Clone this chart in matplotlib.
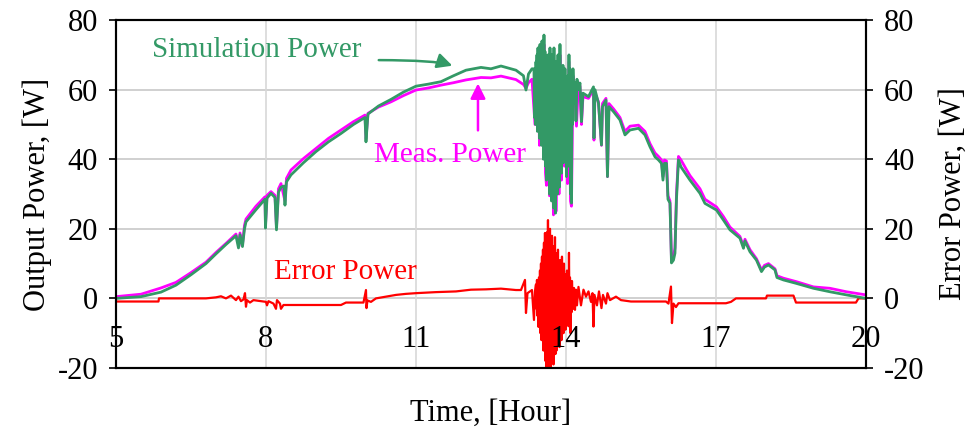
import matplotlib

matplotlib.use("Agg")
import matplotlib.pyplot as plt

plt.rcParams["font.family"] = ["Liberation Serif", "DejaVu Serif"]
plt.rcParams["axes.unicode_minus"] = False

GREEN = "#339966"
MAGENTA = "#ff00ff"
RED = "#ff0000"

# simulated output power, hours / watts
sim_hours = [
    5.00, 5.50, 5.90, 6.20, 6.50, 6.80, 7.00, 7.20, 7.40, 7.45, 7.48, 7.53, 7.57, 7.60,
    7.80, 7.98, 7.99, 8.02, 8.10, 8.18, 8.21, 8.25, 8.30, 8.36, 8.38, 8.41, 8.50, 8.75,
    9.00, 9.25, 9.50, 9.75, 9.98, 10.00, 10.04, 10.25, 10.50, 10.75, 11.00, 11.25, 11.50,
    11.75, 12.00, 12.30, 12.50, 12.70, 13.00, 13.15, 13.20, 13.25, 13.32,
    13.36, 13.37, 13.38, 13.39, 13.40, 13.41, 13.42, 13.43, 13.44, 13.45, 13.46, 13.47,
    13.48, 13.49, 13.50, 13.51, 13.52, 13.53, 13.54, 13.55, 13.56, 13.57, 13.58, 13.59,
    13.60, 13.61, 13.62, 13.63, 13.64, 13.65, 13.66, 13.67, 13.68, 13.69, 13.70, 13.71,
    13.72, 13.73, 13.74, 13.75, 13.76, 13.77, 13.78, 13.79, 13.80, 13.81, 13.82, 13.83,
    13.84, 13.85, 13.86, 13.87, 13.88, 13.89, 13.90, 13.91, 13.92, 13.93, 13.94, 13.95,
    13.96, 13.97, 13.98, 13.99, 14.00, 14.01, 14.02, 14.03, 14.04, 14.05, 14.06, 14.07,
    14.08, 14.09, 14.10, 14.11, 14.12, 14.13, 14.14, 14.16, 14.18, 14.20, 14.22, 14.25,
    14.28, 14.31, 14.34, 14.45,
    14.55, 14.56, 14.58, 14.65, 14.71, 14.73, 14.80, 14.83, 14.86, 14.95, 15.08, 15.18,
    15.28, 15.45, 15.58, 15.68, 15.78, 15.85, 15.91, 15.94, 15.97, 16.01, 16.04, 16.08,
    16.11, 16.15, 16.18, 16.21, 16.25, 16.30, 16.41, 16.48, 16.68, 16.78, 17.01, 17.15,
    17.28, 17.48, 17.55, 17.58, 17.68, 17.81, 17.91, 17.97, 18.05, 18.18, 18.22, 18.35,
    18.61, 18.95, 19.28, 19.61, 20.00,
]
sim_power = [
    0.0, 0.5, 1.8, 3.8, 6.8, 10.0, 12.8, 15.5, 18.0, 14.5, 18.3, 14.9, 20.0, 22.0,
    25.5, 28.5, 20.2, 28.8, 30.2, 29.0, 19.7, 30.5, 32.0, 32.3, 26.8, 33.5, 35.5, 39.0,
    42.2, 45.0, 47.4, 50.0, 52.0, 45.0, 53.0, 55.3, 57.2, 59.3, 61.0, 61.6, 62.3,
    64.0, 65.6, 66.4, 66.0, 66.8, 65.6, 64.0, 59.9, 64.5, 66.0,
    66.0, 52.0, 64.0, 50.0, 68.0, 62.0, 70.0, 48.0, 72.0, 55.0, 70.0, 46.0,
    73.0, 52.0, 68.0, 44.0, 74.0, 50.0, 70.0, 40.0, 75.7, 48.0, 71.0, 38.0,
    69.0, 34.0, 66.0, 45.0, 70.0, 36.0, 68.0, 30.0, 72.0, 42.0, 65.0, 28.0,
    70.0, 44.0, 66.0, 26.0, 72.0, 40.0, 62.0, 24.5, 68.0, 38.0, 64.0, 30.0,
    70.0, 42.0, 60.0, 32.0, 73.0, 45.0, 66.0, 36.0, 62.0, 48.0, 67.0, 39.0,
    60.0, 46.0, 66.0, 42.0, 62.0, 35.0, 58.0, 44.0, 64.0, 38.0, 70.0, 52.0,
    66.0, 30.0, 60.0, 27.4, 58.0, 50.0, 66.0, 56.0, 62.0, 51.0, 63.0, 60.0,
    61.9, 50.8, 59.0, 58.0,
    60.8, 46.1, 60.0, 56.1, 44.1, 55.1, 57.0, 35.0, 55.1, 53.7, 51.3, 47.0,
    48.4, 48.9, 47.0, 43.6, 40.7, 39.8, 38.8, 34.0, 38.8, 38.8, 28.5, 27.4,
    10.2, 11.0, 13.0, 28.5, 39.8, 37.8, 35.5, 34.0, 30.2, 27.3, 25.4, 22.5,
    19.7, 17.3, 14.4, 16.5, 13.4, 11.0, 7.7, 9.0, 9.6, 8.2, 6.0, 5.3,
    4.3, 2.9, 1.9, 1.0, 0.0,
]

# measured output power
meas_hours = [
    5.00, 5.50, 5.90, 6.20, 6.50, 6.80, 7.00, 7.20, 7.40, 7.46, 7.48, 7.53, 7.57, 7.60,
    7.80, 7.98, 7.99, 8.02, 8.10, 8.18, 8.21, 8.25, 8.30, 8.38, 8.41, 8.50, 8.75,
    9.00, 9.25, 9.50, 9.75, 9.98, 10.00, 10.04, 10.25, 10.50, 10.75, 11.00, 11.25, 11.50,
    11.75, 12.00, 12.30, 12.50, 12.70, 13.00, 13.15, 13.20, 13.25, 13.32,
    13.38, 13.41, 13.44, 13.47, 13.50, 13.53, 13.56, 13.59, 13.61, 13.64, 13.67, 13.70,
    13.73, 13.75, 13.78, 13.80, 13.83, 13.86, 13.88, 13.91, 13.94, 13.97, 14.00, 14.03,
    14.06, 14.09, 14.11, 14.14, 14.18, 14.21, 14.25,
    14.28, 14.31, 14.34, 14.45, 14.55, 14.56,
    14.58, 14.65, 14.71, 14.73, 14.80, 14.83, 14.86, 14.95, 15.08, 15.18, 15.28, 15.45,
    15.58, 15.68, 15.78, 15.85, 15.91, 15.94, 15.97, 16.01, 16.04, 16.08, 16.11, 16.15,
    16.18, 16.21, 16.25, 16.30, 16.41, 16.48, 16.68, 16.78, 17.01, 17.15, 17.28, 17.48,
    17.55, 17.58, 17.68, 17.81, 17.91, 17.97, 18.05, 18.18, 18.22, 18.35, 18.61, 18.95,
    19.28, 19.61, 20.00,
]
meas_power = [
    0.5, 1.2, 3.0, 4.6, 7.4, 10.4, 13.2, 15.8, 18.5, 15.0, 18.8, 15.5, 21.0, 22.8,
    26.5, 29.2, 21.0, 29.6, 30.7, 29.6, 20.5, 31.5, 33.0, 28.0, 34.5, 36.9, 40.2,
    43.1, 46.0, 48.4, 50.8, 52.7, 46.0, 53.2, 55.0, 56.5, 58.3, 59.9, 60.5, 61.3,
    62.0, 62.8, 63.5, 63.4, 63.9, 62.9, 61.5, 60.4, 62.0, 63.0,
    50.0, 60.0, 70.0, 44.0, 66.0, 48.0, 73.0, 36.0, 32.5, 68.0, 29.5, 63.0,
    42.0, 24.0, 68.0, 25.0, 66.0, 30.0, 70.0, 34.0, 64.0, 38.0, 61.0, 33.0,
    68.0, 28.0, 26.5, 64.0, 58.0, 49.5, 62.0,
    61.0, 50.0, 58.0, 57.5, 60.0, 45.5,
    59.0, 56.5, 44.0, 56.0, 57.5, 35.0, 56.0, 54.5, 52.0, 48.0, 49.5, 49.8,
    48.0, 44.5, 41.8, 40.8, 39.8, 35.0, 39.8, 39.5, 29.5, 28.0, 11.0, 12.0,
    14.5, 30.0, 40.8, 39.8, 37.0, 35.3, 31.5, 28.5, 26.3, 23.5, 20.5, 17.8,
    15.0, 17.0, 14.0, 11.4, 8.2, 9.5, 10.0, 8.5, 6.5, 5.8, 4.8, 3.3,
    2.9, 1.9, 1.0,
]

# error power (right axis, same scale as left)
err_hours = [
    5.00, 5.85, 5.86, 6.80, 7.00, 7.10, 7.20, 7.30, 7.40, 7.45, 7.50, 7.55, 7.58, 7.60,
    7.62, 7.68, 7.75, 8.00, 8.02, 8.05, 8.15, 8.20, 8.22, 8.28, 8.30, 8.35, 9.50, 9.60,
    9.95, 10.00, 10.01, 10.03, 10.10, 10.20, 10.40, 10.60, 10.80, 11.00, 11.40, 11.80,
    12.10, 12.40, 12.70, 13.00, 13.10, 13.18, 13.20, 13.23, 13.32, 13.36, 13.38,
    13.40, 13.41, 13.42, 13.43, 13.44, 13.45, 13.46, 13.47, 13.48, 13.49, 13.50, 13.51,
    13.52, 13.53, 13.54, 13.55, 13.56, 13.57, 13.58, 13.59, 13.60, 13.61, 13.62, 13.63,
    13.64, 13.65, 13.66, 13.67, 13.68, 13.69, 13.70, 13.71, 13.72, 13.73, 13.74, 13.75,
    13.76, 13.77, 13.78, 13.79, 13.80, 13.81, 13.82, 13.83, 13.84, 13.85, 13.86, 13.87,
    13.88, 13.89, 13.90, 13.91, 13.92, 13.93, 13.94, 13.95, 13.96, 13.97, 13.98, 13.99,
    14.00, 14.01, 14.02, 14.03, 14.04, 14.05, 14.06, 14.07, 14.08, 14.09, 14.10, 14.11,
    14.12, 14.14, 14.16, 14.18, 14.20, 14.22, 14.25,
    14.30, 14.35, 14.40, 14.45, 14.50, 14.53,
    14.55, 14.57, 14.62, 14.66, 14.71, 14.74, 14.80, 14.83, 14.88, 15.00, 15.10, 15.30,
    16.00, 16.05, 16.10, 16.12, 16.15, 16.20, 16.25, 17.20, 17.30, 17.40, 18.00, 18.02,
    18.55, 18.60, 19.80, 19.85, 20.00,
]
err_power = [
    -0.9, -0.9, 0.0, 0.0, 0.3, 0.6, 0.0, 0.8, -0.5, 0.5, -0.8, -0.3, 1.5, -2.4,
    -0.5, -1.2, -0.5, -1.0, -2.0, -0.8, -1.5, -3.0, -0.5, -1.5, -3.0, -1.9, -1.9, -1.2,
    -1.2, 2.4, -2.8, -0.6, -1.0, 0.0, 0.5, 1.0, 1.3, 1.5, 1.8, 2.0,
    2.5, 2.6, 2.8, 2.4, 2.4, 5.3, -4.2, 1.5, 2.4, -6.2, 2.0,
    4.0, -3.0, 5.3, -5.0, 3.0, -8.2, 6.0, -6.0, 8.0, -10.0, 10.0, -12.0,
    12.0, -9.0, 14.0, -15.0, 16.0, -14.0, 18.8, -18.0, 15.0, -20.5, 19.0, -16.0,
    22.5, -20.5, 17.0, -18.0, 20.0, -20.5, 16.0, -15.0, 18.0, -17.0, 14.0, -19.0,
    15.0, -14.0, 17.6, -16.0, 13.0, -15.0, 12.0, -12.0, 14.0, -13.0, 10.0, -14.0,
    11.0, -10.0, 9.0, -12.0, 12.0, -9.0, 8.0, -10.0, 10.0, -8.0, 7.0, -9.0,
    6.0, -7.0, 8.0, -6.0, 5.0, -8.0, 13.1, -5.0, 6.0, -10.0, 4.0, -4.0,
    5.0, -3.0, 3.0, -3.3, 2.5, -2.0, 3.3,
    -2.0, 2.5, 0.5, 2.0, -1.0, 1.5,
    -8.1, 1.0, -2.0, 2.0, -2.8, 1.0, -1.5, 1.5, -0.5, 0.5, -0.5, -0.9,
    -0.9, -1.5, 3.4, -7.1, -1.5, -2.5, -1.4, -1.4, -1.0, 0.0, 0.0, 0.8,
    0.8, -1.2, -1.2, 0.0, 0.0,
]

x_ticks = [5, 8, 11, 14, 17, 20]
y_ticks = [-20, 0, 20, 40, 60, 80]

FS = 22

fig = plt.figure(figsize=(9.73, 4.37), dpi=100)
ax = fig.add_axes([0.1192, 0.158, 0.7708, 0.796])
ax2 = ax.twinx()  # right axis only carries ticks / label

ax.set_xlim(5, 20)
ax.set_ylim(-20, 80)
ax2.set_ylim(-20, 80)

for yv in [0, 20, 40, 60]:
    ax.axhline(yv, color="#c8c8c8", lw=1.2, zorder=0)
for xv in [8, 11, 14, 17]:
    ax.axvline(xv, color="#d8d8d8", lw=1.2, zorder=0)

# error drawn on the main axes so the x tick labels sit on top of it
ax.plot(err_hours, err_power, color=RED, lw=1.6, zorder=1.5)
ax.plot(meas_hours, meas_power, color=MAGENTA, lw=2.0, zorder=2)
ax.plot(sim_hours, sim_power, color=GREEN, lw=2.0, zorder=2.2)

ax.set_xticks(x_ticks)
ax.set_yticks(y_ticks)
ax2.set_yticks(y_ticks)
ax.tick_params(axis="x", length=0, pad=-31, labelsize=FS)
ax.tick_params(axis="y", direction="out", length=5, width=1.2, pad=8, labelsize=FS)
ax2.tick_params(axis="y", direction="out", length=5, width=1.2, pad=8, labelsize=FS)

for sp in ax.spines.values():
    sp.set_linewidth(1.5)
for sp in ax2.spines.values():
    sp.set_linewidth(1.5)

ax.set_xlabel("Time, [Hour]", fontsize=FS, labelpad=22)
ax.set_ylabel("Output Power, [W]", fontsize=FS, labelpad=4)
ax2.set_ylabel("Error Power, [W]", fontsize=FS, labelpad=10)

ax.annotate("", xy=(11.78, 66.6), xytext=(10.2, 68.5),
            arrowprops=dict(arrowstyle="-|>,head_length=0.9,head_width=0.45", color=GREEN, lw=1.8,
                            connectionstyle="angle3,angleA=0,angleB=-25"))
ax.text(7.82, 71.4, "Simulation Power", color=GREEN, fontsize=FS - 1, ha="center", va="center")

ax.annotate("", xy=(12.24, 62.6), xytext=(12.24, 47.5),
            arrowprops=dict(arrowstyle="-|>,head_length=0.9,head_width=0.45", color=MAGENTA, lw=1.8))
ax.text(11.68, 41.2, "Meas. Power", color=MAGENTA, fontsize=FS - 1, ha="center", va="center")

ax.text(9.58, 7.6, "Error Power", color=RED, fontsize=FS - 1, ha="center", va="center")

fig.savefig("out.png", dpi=100)
